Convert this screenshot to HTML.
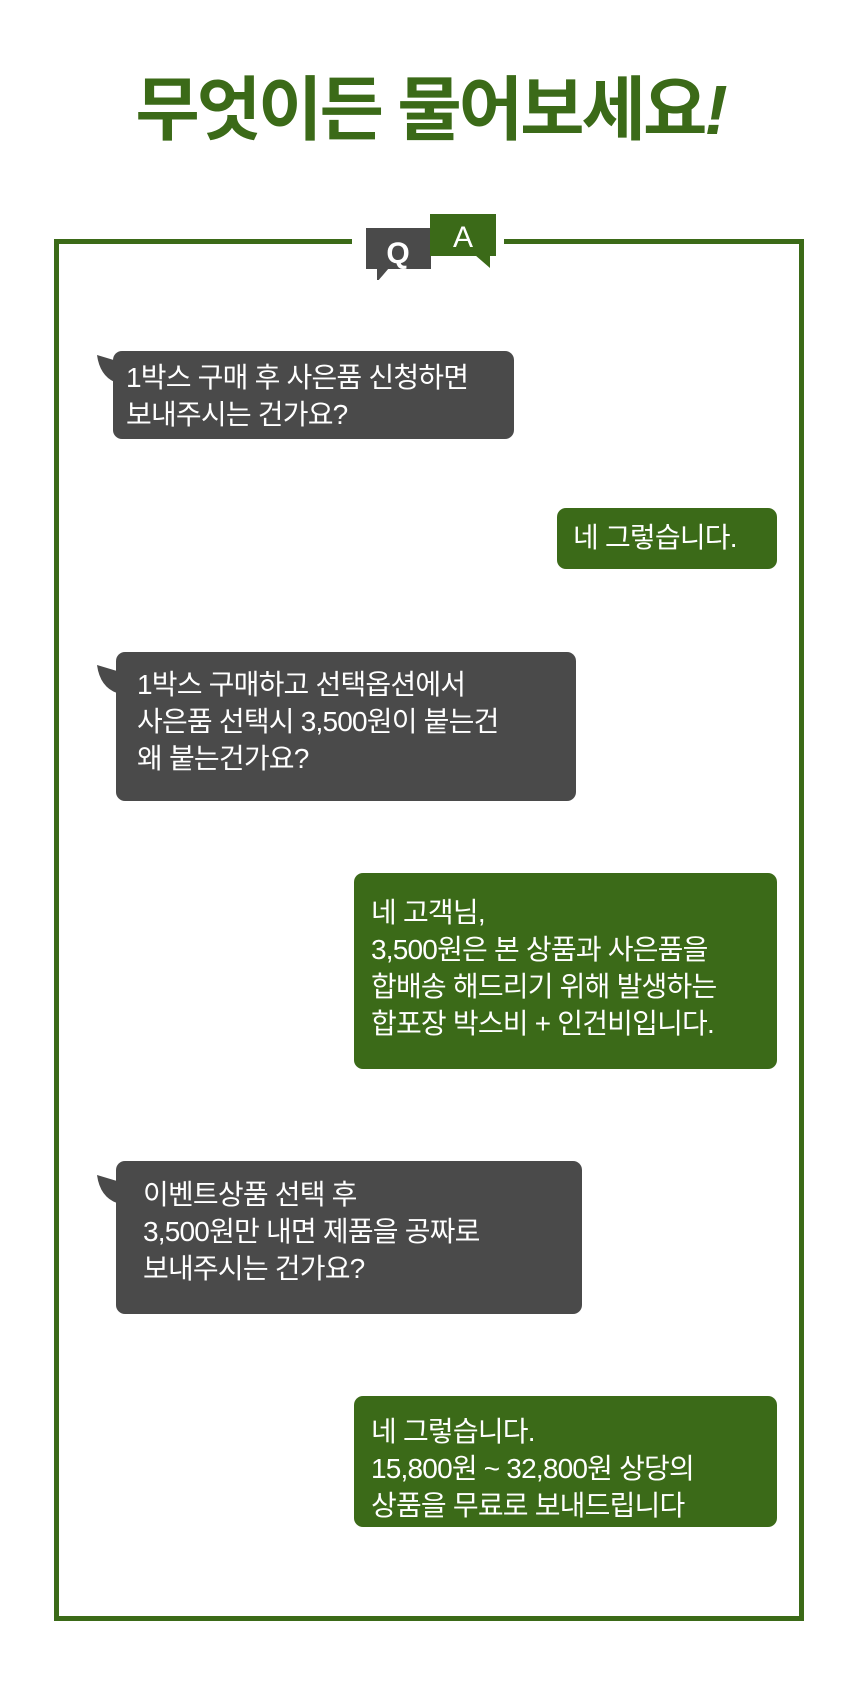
<!DOCTYPE html>
<html><head><meta charset="utf-8"><style>
body{margin:0;width:860px;height:1688px;background:#fff;position:relative;overflow:hidden;font-family:"Liberation Sans","Noto Sans CJK KR",sans-serif}
.t{position:absolute;left:0;width:860px;top:70px;text-align:center;font-size:70px;font-weight:bold;color:#3b6a18;letter-spacing:-3px;line-height:80px}
.frame{position:absolute;left:54px;top:239px;width:740px;height:1372px;border:5px solid #3b6a18}
.gap{position:absolute;left:352px;top:230px;width:152px;height:20px;background:#fff}
.b{position:absolute;border-radius:9px;color:#fff;font-size:28px;line-height:37px;letter-spacing:-0.8px;box-sizing:border-box;white-space:nowrap}
.g{background:#4a4a4a}.n{background:#3b6a18}
.tail{position:absolute}
</style></head><body>
<div class="t">무엇이든 물어보세요<i>!</i></div>
<div class="frame"></div>
<div class="gap"></div>
<svg style="position:absolute;left:360px;top:210px" width="140" height="70">
<rect x="6" y="18" width="65" height="41" fill="#4a4a4a"/>
<polygon points="17,58 29,58 17,72" fill="#4a4a4a"/>
<text x="38" y="53" font-size="30" font-weight="bold" fill="#fff" text-anchor="middle" font-family="Liberation Sans">Q</text>
<rect x="70" y="4" width="66" height="42" fill="#3b6a18"/>
<polygon points="115,45 130,45 130,58" fill="#3b6a18"/>
<text x="103" y="37" font-size="30" fill="#fff" text-anchor="middle" font-family="Liberation Sans">A</text>
</svg>

<svg class="tail" style="left:97px;top:355px" width="24" height="30"><path d="M0,0 Q3,22 20,28 L20,6 Z" fill="#4a4a4a"/></svg>
<div class="b g" style="left:113px;top:351px;width:401px;height:88px;padding:8px 0 0 13px">1박스 구매 후 사은품 신청하면<br>보내주시는 건가요?</div>

<div class="b n" style="left:557px;top:508px;width:220px;height:61px;padding:11px 0 0 16px">네 그렇습니다.</div>

<svg class="tail" style="left:97px;top:665px" width="24" height="30"><path d="M0,0 Q3,22 20,28 L20,6 Z" fill="#4a4a4a"/></svg>
<div class="b g" style="left:116px;top:652px;width:460px;height:149px;padding:14px 0 0 21px">1박스 구매하고 선택옵션에서<br>사은품 선택시 3,500원이 붙는건<br>왜 붙는건가요?</div>

<div class="b n" style="left:354px;top:873px;width:423px;height:196px;padding:21px 0 0 17px">네 고객님,<br>3,500원은 본 상품과 사은품을<br>합배송 해드리기 위해 발생하는<br>합포장 박스비 + 인건비입니다.</div>

<svg class="tail" style="left:97px;top:1175px" width="24" height="30"><path d="M0,0 Q3,22 20,28 L20,6 Z" fill="#4a4a4a"/></svg>
<div class="b g" style="left:116px;top:1161px;width:466px;height:153px;padding:15px 0 0 27px">이벤트상품 선택 후<br>3,500원만 내면 제품을 공짜로<br>보내주시는 건가요?</div>

<div class="b n" style="left:354px;top:1396px;width:423px;height:131px;padding:17px 0 0 17px">네 그렇습니다.<br>15,800원 ~ 32,800원 상당의<br>상품을 무료로 보내드립니다</div>
</body></html>
